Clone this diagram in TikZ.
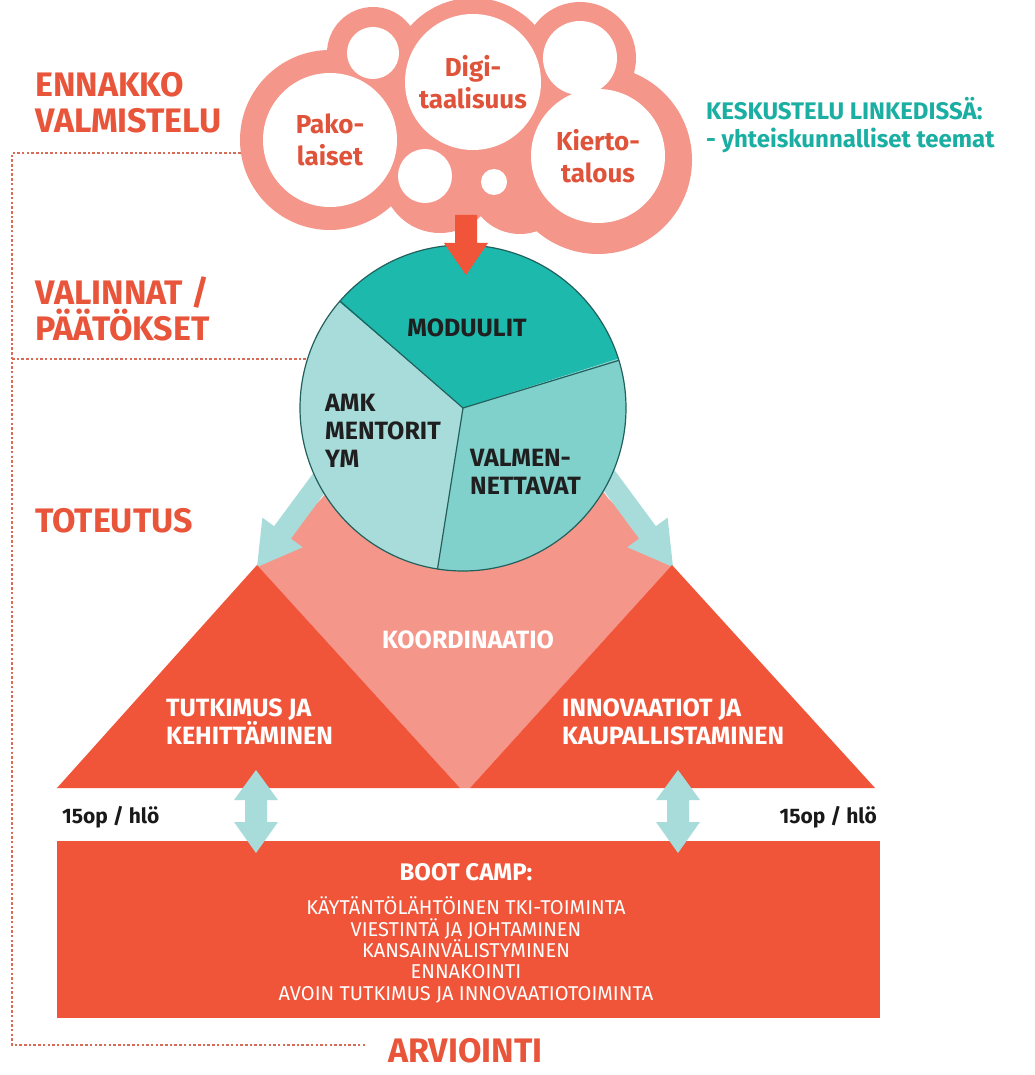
\documentclass[tikz,border=0pt]{standalone}
\usepackage{fontspec}
\setmainfont{Fira Sans}
\usetikzlibrary{positioning}

\definecolor{salmon}{HTML}{F5968A}
\definecolor{coral}{HTML}{F0553A}
\definecolor{labelred}{HTML}{E9553A}
\definecolor{cloudtext}{HTML}{E0533B}
\definecolor{tealdark}{HTML}{1DB9AD}
\definecolor{tealmid}{HTML}{80D0CB}
\definecolor{teallight}{HTML}{A8DCDA}
\definecolor{tealline}{HTML}{22605C}
\definecolor{tealtext}{HTML}{1AAFA2}
\definecolor{dotred}{HTML}{D96A55}

\begin{document}
\begin{tikzpicture}[x=1pt, y=-1pt,
  phase/.style={font=\fontsize{34}{36}\selectfont\bfseries, text=labelred, align=left, anchor=base west, inner sep=0pt},
  bubble/.style={circle, fill=white, inner sep=0pt, font=\fontsize{26}{32}\selectfont\bfseries, text=cloudtext, align=center},
  ring/.style={fill=salmon},
  sector/.style={draw=tealline, line width=1.2pt},
  slice/.style={font=\fontsize{25}{28}\selectfont\bfseries, text=black!88, align=left, inner sep=0pt},
  tritext/.style={font=\fontsize{25}{28}\selectfont\bfseries, text=white, align=left, inner sep=0pt},
  guide/.style={draw=dotred, line width=1.4pt, dash pattern=on 2.5pt off 2.2pt},
  link/.style={fill=teallight},
  note/.style={font=\fontsize{21}{24}\selectfont\bfseries, text=black!90, inner sep=0pt},
]
\useasboundingbox[fill=white] (0,0) rectangle (1034,1075);

% Phase guides
\draw[guide] (250,153) -- (12,153) -- (12,1045) -- (365,1045);
\draw[guide] (12,359) -- (320,359);

% Cloud of themes
\foreach \cx/\cy/\r in {330/140/90, 473/82/84, 598/160/94, 580/58/56, 373/53/46, 440/175/58, 520/182/52}
  \fill[ring] (\cx,\cy) circle (\r pt);
\node[bubble, minimum size=134pt] (pako) at (330,140) {Pako-\\laiset};
\node[bubble, minimum size=136pt] (digi) at (473,82) {Digi-\\taalisuus};
\node[bubble, minimum size=134pt] (kierto) at (598,156) {Kierto-\\talous};
\node[bubble, minimum size=52pt] (dotA) at (373,53) {};
\node[bubble, minimum size=74pt] (dotB) at (580,58) {};
\node[bubble, minimum size=54pt] (dotC) at (425,176) {};
\node[bubble, minimum size=26pt] (dotD) at (494,182) {};

% Coordination area and arrows out of the circle
\fill[salmon] (257,565) -- (322,498) -- (345,468) -- (585,468) -- (608,498) -- (672,565) -- (470,788) -- (460,788) -- cycle;
\fill[link] (257,567) -- (262.4,517.6) -- (274.1,526.2) -- (333.5,445.8) -- (350.3,458.2) -- (290.9,538.6) -- (302.6,547.3) -- cycle;
\fill[link] (673,567) -- (667.6,517.6) -- (655.9,526.2) -- (596.5,445.8) -- (579.7,458.2) -- (639.1,538.6) -- (627.4,547.3) -- cycle;

% Selection circle
\node[circle, minimum size=326pt, inner sep=0pt] (pie) at (463,408) {};
\fill[tealdark] (pie.center) -- ++(17.6:163pt) arc[start angle=17.6, end angle=139.5, radius=163pt] -- cycle;
\fill[teallight] (pie.center) -- ++(139.5:163pt) arc[start angle=139.5, end angle=261.3, radius=163pt] -- cycle;
\fill[tealmid] (pie.center) -- ++(261.3:163pt) arc[start angle=261.3, end angle=377.6, radius=163pt] -- cycle;
\draw[sector] (pie.17.6) -- (pie.center) -- (pie.139.5);
\draw[sector] (pie.center) -- (pie.261.3);
\draw[sector] (pie.center) circle (163pt);
\node[slice] (moduulit) at (467,328) {MODUULIT};
\node[slice, anchor=base west] (amk) at (325,467) {AMK\\MENTORIT\\YM};
\node[slice, anchor=base west] (valmen) at (470,494) {VALMEN-\\NETTAVAT};

% Arrow from cloud to circle
\fill[coral] (455,215) -- (477,215) -- (477,243) -- (488,243) -- (466,275) -- (444,243) -- (455,243) -- cycle;

% Two triangles
\fill[coral] (57,788) -- (257,565) -- (460,788) -- cycle;
\fill[coral] (470,788) -- (672,565) -- (875,788) -- cycle;
\node[tritext, anchor=base] (koord) at (468,648) {KOORDINAATIO};
\node[tritext, anchor=base west] (tki) at (166,744) {TUTKIMUS JA\\KEHITTÄMINEN};
\node[tritext, anchor=base west] (inno) at (562,744) {INNOVAATIOT JA\\KAUPALLISTAMINEN};

% Boot camp
\node[fill=coral, minimum width=823pt, minimum height=177pt, anchor=north west, inner sep=0pt] (camp) at (57,841) {};
\node[font=\fontsize{24}{26}\selectfont\bfseries, text=white, anchor=base, inner sep=0pt] (camptitle) at (466,880) {BOOT CAMP:};
\node[font=\fontsize{20}{21.3}\selectfont, text=white, align=center, anchor=base, inner sep=0pt] (camplist) at (466,1000)
  {KÄYTÄNTÖLÄHTÖINEN TKI-TOIMINTA\\VIESTINTÄ JA JOHTAMINEN\\KANSAINVÄLISTYMINEN\\ENNAKOINTI\\AVOIN TUTKIMUS JA INNOVAATIOTOIMINTA};
\node[note, anchor=base west] (opleft) at (62,823) {15op / hlö};
\node[note, anchor=base east] (opright) at (877,823) {15op / hlö};

% Double arrows
\foreach \c in {256,678}
  \fill[link] (\c,770) -- ({\c+22},800) -- ({\c+11},800) -- ({\c+11},822) -- ({\c+22},822) -- (\c,853)
    -- ({\c-22},822) -- ({\c-11},822) -- ({\c-11},800) -- ({\c-22},800) -- cycle;

% Phase labels
\node[phase] (ennakko) at (35,133) {ENNAKKO\\VALMISTELU};
\node[phase] (valinnat) at (35,340) {VALINNAT /\\PÄÄTÖKSET};
\node[phase] (toteutus) at (35,532) {TOTEUTUS};
\node[phase] (arviointi) at (388,1062) {ARVIOINTI};
\node[font=\fontsize{24}{28}\selectfont\bfseries, text=tealtext, align=left, anchor=base west, inner sep=0pt] (linkedin) at (706,148)
  {KESKUSTELU LINKEDISSÄ:\\- yhteiskunnalliset teemat};
\end{tikzpicture}
\end{document}
